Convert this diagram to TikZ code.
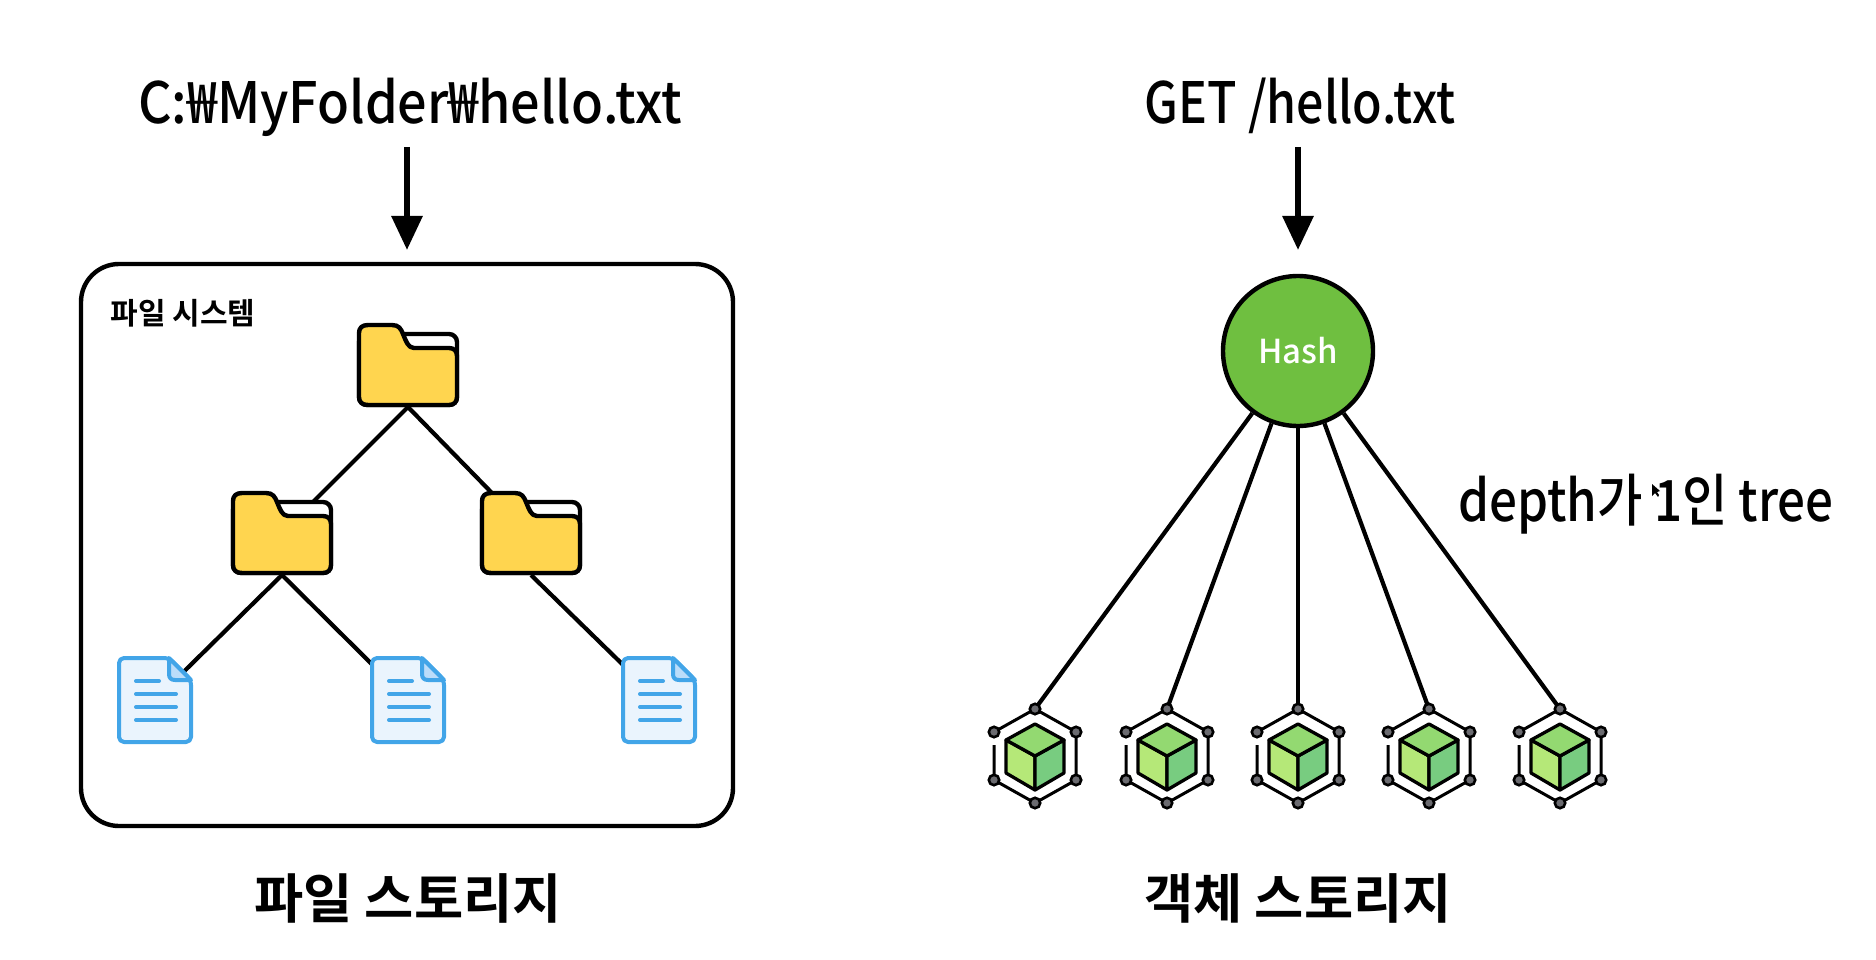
\documentclass[tikz,border=0pt]{standalone}
\usepackage{fontspec}
\setmainfont{Noto Sans CJK KR Medium}[BoldFont={Noto Sans CJK KR Bold}]
\usetikzlibrary{arrows.meta}
\definecolor{folderY}{HTML}{FFD54F}
\definecolor{fileB}{HTML}{42A5E8}
\definecolor{fileL}{HTML}{EAF4FD}
\definecolor{fileC}{HTML}{BBDDFA}
\definecolor{hashG}{HTML}{6FBF40}
\definecolor{cubeT}{HTML}{93D971}
\definecolor{cubeL}{HTML}{B5E878}
\definecolor{cubeR}{HTML}{78CC80}
\definecolor{dotG}{HTML}{6B6B70}
\tikzset{
  line/.style={line width=4.2pt,black},
  bigarrow/.style={line width=6pt,black,-{Triangle[length=34pt,width=30pt]}},
  anchorbox/.style={inner sep=0pt,outer sep=0pt,minimum width=#1},
  title/.style={font=\fontsize{57}{57}\selectfont,inner sep=0pt,anchor=base},
  caption/.style={font=\fontsize{53.5}{54}\selectfont\bfseries,inner sep=0pt,anchor=base},
  folderpic/.pic={
    \draw[line width=4.4pt,fill=white,rounded corners=8pt] (-49,-31) rectangle (49,40);
    \draw[line width=4.4pt,fill=folderY,line join=round]
      (-40,-40) -- (-16,-40) .. controls (-9,-40) and (-7,-36) .. (-5,-31)
      .. controls (-2,-24) and (0,-17) .. (6,-17) -- (41,-17)
      .. controls (46,-17) and (49,-14) .. (49,-9) -- (49,32)
      .. controls (49,37) and (46,40) .. (41,40) -- (-40,40)
      .. controls (-46,40) and (-49,37) .. (-49,32) -- (-49,-32)
      .. controls (-49,-37) and (-46,-40) .. (-40,-40) -- cycle;
  },
  filepic/.pic={
    \draw[line width=4pt,draw=fileB,fill=fileL,line join=round,rounded corners=5pt]
      (-36,-42) -- (14,-42) -- (36,-20) -- (36,42) -- (-36,42) -- cycle;
    \draw[line width=4pt,draw=fileB,fill=fileC,line join=round]
      (14,-42) -- (36,-20) -- (20,-20) .. controls (16,-20) and (14,-22) .. (14,-26) -- cycle;
    \draw[line width=4pt,draw=fileB,line cap=round]
      (-19,-19) -- (4,-19) (-19,-6) -- (21,-6) (-19,7) -- (21,7) (-19,20) -- (21,20);
  },
  cubepic/.pic={
    \draw[line width=3.3pt,line join=round,fill=cubeL] (-29,-16) -- (0,0) -- (0,34) -- (-29,17) -- cycle;
    \draw[line width=3.3pt,line join=round,fill=cubeR] (29,-16) -- (0,0) -- (0,34) -- (29,17) -- cycle;
    \draw[line width=3.3pt,line join=round,fill=cubeT] (0,-32) -- (29,-16) -- (0,0) -- (-29,-16) -- cycle;
    \draw[line width=3pt] (0,-47) -- (41,-24) -- (41,24) -- (0,47) -- (-41,24) -- (-41,-11);
    \draw[line width=3pt] (0,-47) -- (-41,-24);
    \foreach \px/\py in {0/-47,41/-24,41/24,0/47,-41/24,-41/-24}
      \draw[line width=2.6pt,fill=dotG] (\px,\py) circle (5.2pt);
  },
}
\begin{document}
\begin{tikzpicture}[x=1pt,y=-1pt]
\useasboundingbox (0,0) rectangle (1876,960);
% file system box
\node[draw,line width=4.4pt,rounded corners=38pt,minimum width=652pt,minimum height=562pt,inner sep=0pt] (box) at (407,545) {};
\node[font=\fontsize{30}{30}\selectfont\bfseries,inner sep=0pt,anchor=base] (fslabel) at (183,324) {파일 시스템};
% texts
\node[title] (t1) at (410,124) {\scalebox{0.915}[1]{C:₩MyFolder₩hello.txt}};
\node[title] (t2) at (1300,124) {\scalebox{0.847}[1]{GET /hello.txt}};
\node[caption] (c1) at (408,918) {파일 스토리지};
\node[caption] (c2) at (1298,918) {객체 스토리지};
\node[title] (dl) at (1646,521) {\scalebox{0.865}[1]{depth가 1인 tree}};
% anchors
\coordinate (a1s) at (407,147); \coordinate (a1e) at (407,250);
\coordinate (a2s) at (1298,147); \coordinate (a2e) at (1298,250);
\draw[bigarrow] (a1s) -- (a1e);
\draw[bigarrow] (a2s) -- (a2e);
% folder tree
\node[anchorbox=101pt,minimum height=84pt] (f1) at (408,365) {};
\node[anchorbox=101pt,minimum height=84pt] (f2) at (282,533) {};
\node[anchorbox=101pt,minimum height=84pt] (f3) at (531,533) {};
\node[anchorbox=75pt,minimum height=87pt] (d1) at (155,700) {};
\node[anchorbox=75pt,minimum height=87pt] (d2) at (408,700) {};
\node[anchorbox=75pt,minimum height=87pt] (d3) at (659,700) {};
\draw[line] (f1.south) -- (f2.center);
\draw[line] (f1.south) -- (f3.center);
\draw[line] (f2.south) -- (d1.center);
\draw[line] (f2.south) -- (d2.center);
\draw[line] (f3.south) -- (d3.center);
\foreach \n in {f1,f2,f3} \path (\n.center) pic {folderpic};
\foreach \n in {d1,d2,d3} \path (\n.center) pic {filepic};
% hash + hexes
\node[circle,draw,line width=4.4pt,fill=hashG,minimum size=150pt,inner sep=0pt,text=white,font=\fontsize{33}{33}\selectfont] (hash) at (1298,351) {Hash};
\coordinate (h1) at (1035,756); \coordinate (h2) at (1167,756); \coordinate (h3) at (1298,756);
\coordinate (h4) at (1429,756); \coordinate (h5) at (1560,756);
\foreach \n in {h1,h2,h3,h4,h5} {
  \coordinate (\n t) at ([yshift=47pt]\n);
  \draw[line] (hash) -- (\n t);
  \path (\n) pic {cubepic};
}
% cursor
\fill (1652,484) -- (1652,496) -- (1655,493) -- (1658,497) -- (1659,495) -- (1657,492) -- (1660,491) -- cycle;
\end{tikzpicture}
\end{document}
